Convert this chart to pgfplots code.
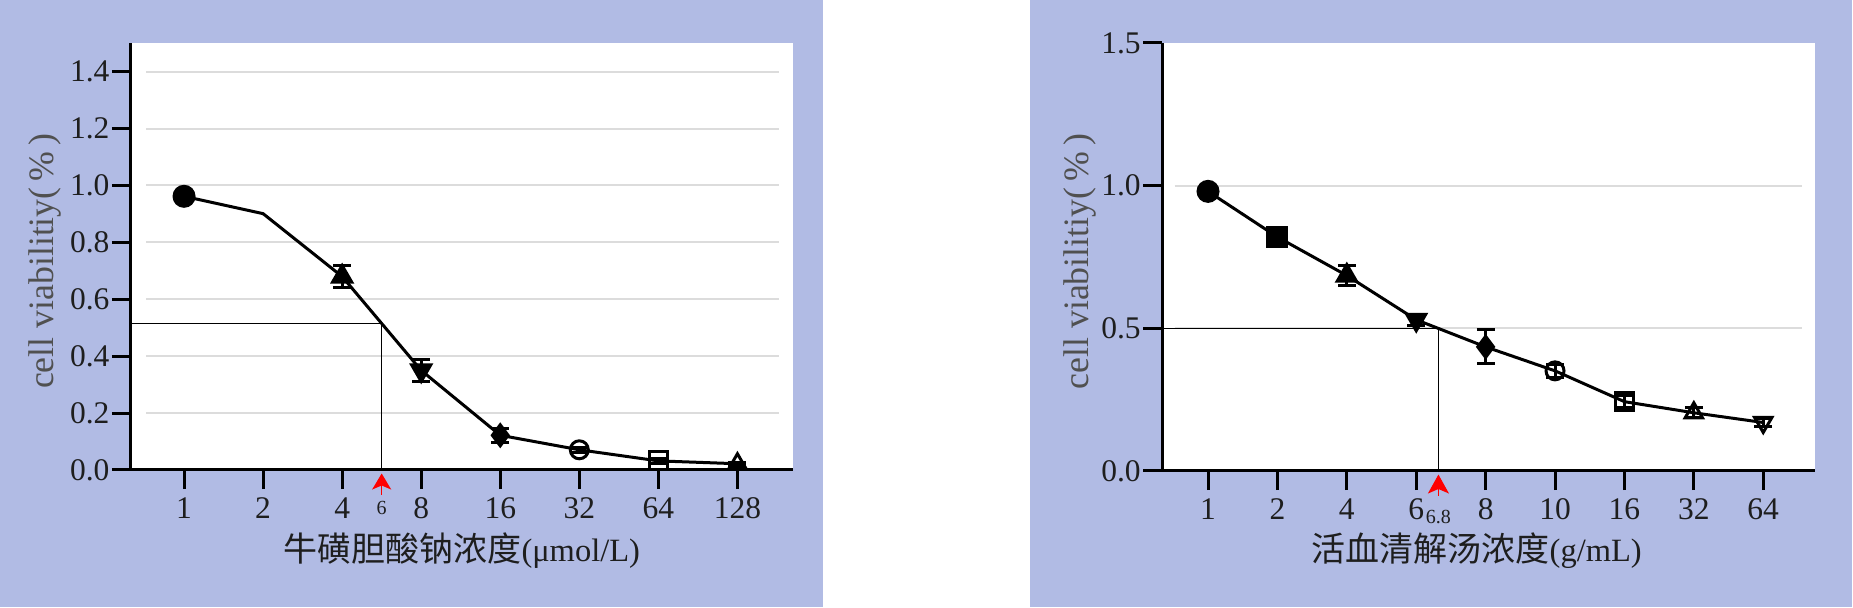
\documentclass[border=0pt]{standalone}
\usepackage{fontspec}
\setmainfont{Liberation Serif}
\newfontfamily\cjk{Noto Sans CJK SC}
\usepackage{pgfplots}
\usepackage{pgfplotstable}
\pgfplotsset{compat=1.18}
\usetikzlibrary{arrows.meta}

\definecolor{panel}{RGB}{177,187,228}
\definecolor{gridc}{RGB}{220,220,220}
\definecolor{labc}{RGB}{80,80,80}
\definecolor{tickc}{RGB}{30,30,30}

% downward triangles (filled and open)
\pgfdeclareplotmark{dtri*}{%
  \pgfpathmoveto{\pgfqpoint{0pt}{-\pgfplotmarksize}}%
  \pgfpathlineto{\pgfqpointpolar{30}{\pgfplotmarksize}}%
  \pgfpathlineto{\pgfqpointpolar{150}{\pgfplotmarksize}}%
  \pgfpathclose\pgfusepathqfillstroke}
\pgfdeclareplotmark{dtri}{%
  \pgfpathmoveto{\pgfqpoint{0pt}{-\pgfplotmarksize}}%
  \pgfpathlineto{\pgfqpointpolar{30}{\pgfplotmarksize}}%
  \pgfpathlineto{\pgfqpointpolar{150}{\pgfplotmarksize}}%
  \pgfpathclose\pgfusepathqstroke}

% left: sodium taurocholate, right: Huoxue Qingjie decoction
\pgfplotstableread{
x y
0 0.962
1 0.901
2 0.680
3 0.350
4 0.122
5 0.071
6 0.032
7 0.022
}\tcaline
\pgfplotstableread{
x y e c
0 0.962 0.012 a
2 0.680 0.038 b
3 0.350 0.040 c
4 0.122 0.025 d
5 0.071 0.008 e
6 0.032 0.008 f
7 0.022 0.006 g
}\tcamarks
\pgfplotstableread{
x y e c
0 0.980 0.012 a
1 0.820 0.030 s
2 0.685 0.035 b
3 0.530 0.020 c
4 0.435 0.060 d
5 0.351 0.022 e
6 0.243 0.022 f
7 0.204 0.018 g
8 0.170 0.015 h
}\hxmarks

\pgfplotsset{
  panel/.style={
    scale only axis,
    clip=false,
    axis x line*=bottom,
    axis y line*=left,
    axis line style={line width=1.2pt, black, -},
    axis background/.style={fill=white},
    tick align=outside,
    major tick length=7.6pt,
    tick style={line width=1.2pt, black},
    ticklabel style={font=\fontsize{12.6pt}{13pt}\selectfont, text=tickc},
    yticklabel style={xshift=2.6pt},
    /pgf/number format/fixed,
    /pgf/number format/fixed zerofill,
    /pgf/number format/precision=1,
    /pgf/number format/assume math mode=true,
    ylabel style={font=\fontsize{14.3pt}{15pt}\selectfont, text=labc},
    xlabel style={font=\fontsize{13pt}{14pt}\selectfont, text=tickc},
  },
  dataline/.style={black, line width=1.2pt, mark=none},
  pts/.style={
    only marks,
    scatter, scatter src=explicit symbolic,
    scatter/use mapped color={draw=black, fill=black},
    every mark/.append style={line width=1.2pt},
    scatter/classes={
      a={mark=*, mark size=4pt},
      s={mark=square*, mark size=3.8pt},
      b={mark=triangle*, mark size=4.4pt},
      c={mark=dtri*, mark size=4.4pt},
      d={mark=diamond*, mark size=4.2pt},
      e={mark=o, mark size=3.6pt},
      f={mark=square, mark size=3.6pt},
      g={mark=triangle, mark size=4pt},
      h={mark=dtri, mark size=4pt}
    },
    error bars/.cd,
      y dir=both, y explicit,
      error bar style={line width=1.2pt, black},
      error mark options={line width=1.2pt, black, mark size=3.6pt, rotate=90},
  },
}

\begin{document}
\begin{tikzpicture}
\path[use as bounding box, fill=white] (0,0) rectangle (741.2pt,243.2pt);
\fill[panel] (0,0.5pt) rectangle (329.2pt,243.2pt);
\fill[panel] (412pt,0.5pt) rectangle (740.7pt,243.2pt);

\begin{axis}[panel,
  at={(52.3pt,55.2pt)}, anchor=south west,
  width=264.8pt, height=170.7pt,
  xmin=-0.674, xmax=7.70, ymin=0, ymax=1.5,
  xtick={0,...,7}, xticklabels={1,2,4,8,16,32,64,128},
  ytick={0,0.2,0.4,0.6,0.8,1.0,1.2,1.4},
  ylabel={cell viabilitiy(\,\%\,)},
  ylabel style={at={(axis description cs:-0.129,0.489)}, anchor=center},
  xlabel={{\cjk\fontsize{13.6pt}{14pt}\selectfont 牛磺胆酸钠浓度}(μmol/L)},
  xlabel style={at={(axis description cs:0.5,-0.188)}, anchor=center},
]
\pgfplotsinvokeforeach{0.2,0.4,0.6,0.8,1.0,1.2,1.4}{
  \draw[gridc, line width=0.8pt] (axis cs:-0.48,#1) -- (axis cs:7.53,#1);
}
\draw[black, line width=0.45pt] (axis cs:-0.674,0.515) -- (axis cs:2.5,0.515) -- (axis cs:2.5,0);
\addplot[dataline] table[x=x, y=y] {\tcaline};
\addplot[pts] table[x=x, y=y, y error=e, meta=c] {\tcamarks};
\draw[red, line width=0.6pt, -{Stealth[length=6.4pt, width=7.6pt, inset=1.6pt]}]
  ([yshift=-10pt]axis cs:2.5,0) -- ([yshift=-1.4pt]axis cs:2.5,0);
\node[font=\fontsize{8pt}{9pt}\selectfont, text=tickc] at ([yshift=-15.2pt]axis cs:2.5,0) {6};
\end{axis}

\begin{axis}[panel,
  at={(464.8pt,54.8pt)}, anchor=south west,
  width=261.2pt, height=171.2pt,
  xmin=-0.663, xmax=8.746, ymin=0, ymax=1.5,
  xtick={0,...,8}, xticklabels={1,2,4,6,8,10,16,32,64},
  ytick={0,0.5,1.0,1.5},
  ylabel={cell viabilitiy(\,\%\,)},
  ylabel style={at={(axis description cs:-0.126,0.489)}, anchor=center},
  xlabel={{\cjk\fontsize{13.6pt}{14pt}\selectfont 活血清解汤浓度}(g/mL)},
  xlabel style={at={(axis description cs:0.482,-0.186)}, anchor=center},
]
\pgfplotsinvokeforeach{0.5,1.0}{
  \draw[gridc, line width=0.8pt] (axis cs:-0.48,#1) -- (axis cs:8.56,#1);
}
\draw[black, line width=0.6pt] (axis cs:-0.663,0.5) -- (axis cs:3.32,0.5);
\draw[black, line width=0.45pt] (axis cs:3.32,0.5) -- (axis cs:3.32,0);
\addplot[dataline] table[x=x, y=y] {\hxmarks};
\addplot[pts] table[x=x, y=y, y error=e, meta=c] {\hxmarks};
\draw[red, line width=0.6pt, -{Stealth[length=7.6pt, width=8.4pt, inset=1.8pt]}]
  ([yshift=-10pt]axis cs:3.32,0) -- ([yshift=-1.4pt]axis cs:3.32,0);
\node[font=\fontsize{8pt}{9pt}\selectfont, text=tickc] at ([yshift=-18.3pt]axis cs:3.32,0) {6.8};
\end{axis}
\end{tikzpicture}
\end{document}
